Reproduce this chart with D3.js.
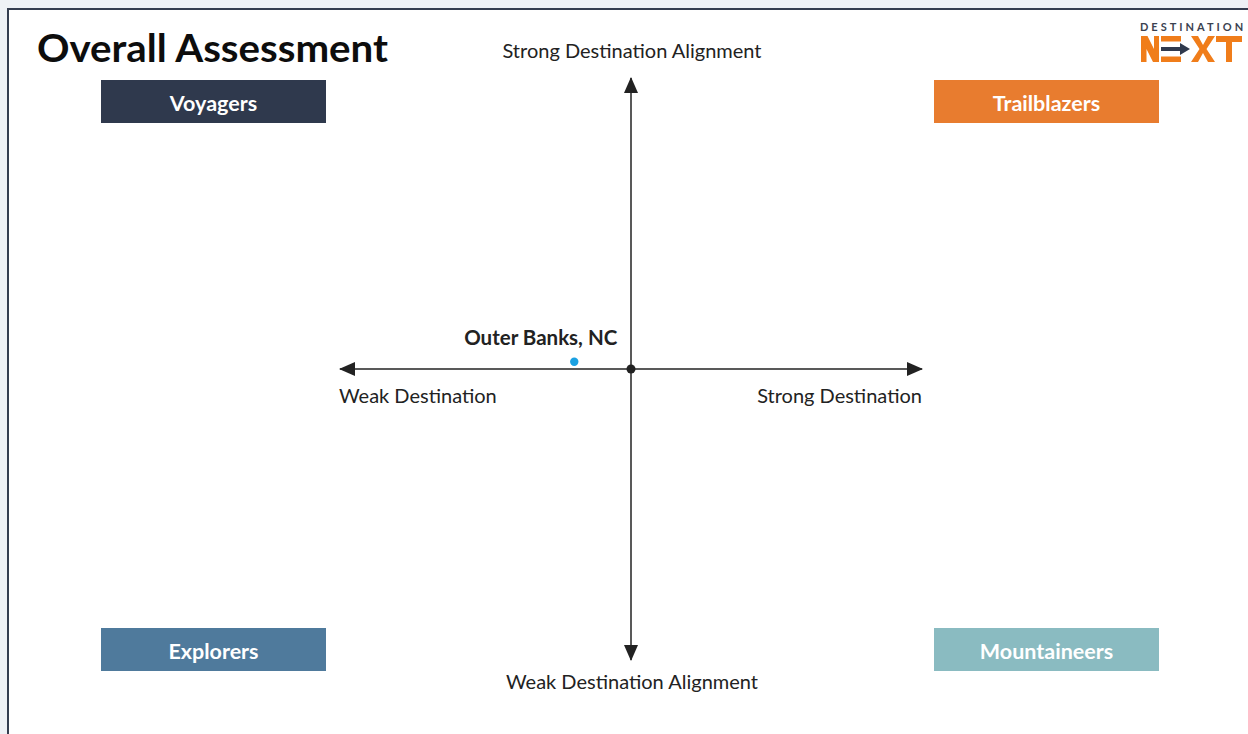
<!DOCTYPE html>
<html>
<head>
<meta charset="utf-8">
<script src="https://cdn.jsdelivr.net/npm/d3@7.9.0/dist/d3.min.js"></script>
<style>
  html, body { margin: 0; padding: 0; background: #eef1f6; }
  svg { display: block; font-family: "Lato", "Noto Sans", sans-serif; }
</style>
</head>
<body>
<svg id="chart"></svg>
<script>
// Quadrant names and colours
const quadrants = ["Voyagers", "Trailblazers", "Explorers", "Mountaineers"];
const quadrantColors = ["#2f394d", "#e87c2f", "#4f7a9c", "#8abbc1"];
const quadrantCorner = [["left", "top"], ["right", "top"], ["left", "bottom"], ["right", "bottom"]];

// Axis end labels
const axisLabels = {
  top: "Strong Destination Alignment",
  bottom: "Weak Destination Alignment",
  left: "Weak Destination",
  right: "Strong Destination"
};

// Destinations plotted (score -100..100 on each axis)
const destNames = ["Outer Banks, NC"];
const destStrength = [-19.5];
const destAlignment = [2.5];

const W = 1248, H = 734;
const svg = d3.select("#chart").attr("width", W).attr("height", H);

// page frame
svg.append("rect")
  .attr("x", 8).attr("y", 9)
  .attr("width", W + 10).attr("height", H + 10)
  .attr("fill", "#fff")
  .attr("stroke", "#343d50")
  .attr("stroke-width", 2);

// title
svg.append("text")
  .attr("x", 37).attr("y", 62)
  .style("font-size", "39px")
  .style("font-weight", "bold")
  .attr("fill", "#0d0d0d")
  .attr("textLength", 351)
  .attr("lengthAdjust", "spacingAndGlyphs")
  .text("Overall Assessment");

// scales
const x = d3.scaleLinear().domain([-100, 100]).range([340, 922]);
const y = d3.scaleLinear().domain([-100, 100]).range([660, 78]);

// arrow marker
const defs = svg.append("defs");
defs.append("marker")
  .attr("id", "arrow")
  .attr("viewBox", "0 0 16 14")
  .attr("refX", 15).attr("refY", 7)
  .attr("markerWidth", 16).attr("markerHeight", 14)
  .attr("markerUnits", "userSpaceOnUse")
  .attr("orient", "auto-start-reverse")
  .append("path")
  .attr("d", "M0,0 L16,7 L0,14 Z")
  .attr("fill", "#222");

const g = svg.append("g");

g.append("line")
  .attr("x1", x(-100)).attr("x2", x(100))
  .attr("y1", y(0)).attr("y2", y(0))
  .attr("stroke", "#222").attr("stroke-width", 1.5)
  .attr("marker-start", "url(#arrow)")
  .attr("marker-end", "url(#arrow)");

g.append("line")
  .attr("x1", x(0)).attr("x2", x(0))
  .attr("y1", y(100)).attr("y2", y(-100))
  .attr("stroke", "#222").attr("stroke-width", 1.5)
  .attr("marker-start", "url(#arrow)")
  .attr("marker-end", "url(#arrow)");

g.append("circle")
  .attr("cx", x(0)).attr("cy", y(0)).attr("r", 4.5)
  .attr("fill", "#222");

// axis labels
const labelStyle = sel => sel.style("font-size", "20px").attr("fill", "#222");
g.append("text").attr("x", x(0) + 1).attr("y", 58).attr("text-anchor", "middle")
  .call(labelStyle).text(axisLabels.top);
g.append("text").attr("x", x(0) + 1).attr("y", 689).attr("text-anchor", "middle")
  .call(labelStyle).text(axisLabels.bottom);
g.append("text").attr("x", x(-100) - 1).attr("y", 403).attr("text-anchor", "start")
  .call(labelStyle).text(axisLabels.left);
g.append("text").attr("x", x(100)).attr("y", 403).attr("text-anchor", "end")
  .call(labelStyle).text(axisLabels.right);

// quadrant boxes
const boxW = 225, boxH = 43;
const boxX = { left: 101, right: 934 };
const boxY = { top: 80, bottom: 628 };
const boxes = svg.selectAll("g.quad")
  .data(quadrants.map((q, i) => ({ name: q, color: quadrantColors[i], corner: quadrantCorner[i] })))
  .join("g")
  .attr("class", "quad")
  .attr("transform", d => `translate(${boxX[d.corner[0]]},${boxY[d.corner[1]]})`);
boxes.append("rect")
  .attr("width", boxW).attr("height", boxH)
  .attr("fill", d => d.color);
boxes.append("text")
  .attr("x", boxW / 2).attr("y", boxH / 2 + 9.5)
  .attr("text-anchor", "middle")
  .style("font-size", "21.5px")
  .style("font-weight", "bold")
  .attr("fill", "#fff")
  .text(d => d.name);

// destination points
const dests = destNames.map((n, i) => ({ name: n, sx: destStrength[i], sy: destAlignment[i] }));
g.selectAll("circle.dest")
  .data(dests)
  .join("circle")
  .attr("class", "dest")
  .attr("cx", d => x(d.sx)).attr("cy", d => y(d.sy))
  .attr("r", 4.2)
  .attr("fill", "#1ba1e2");
g.selectAll("text.dest")
  .data(dests)
  .join("text")
  .attr("class", "dest")
  .attr("x", d => x(d.sx) + 43).attr("y", d => y(d.sy) - 17)
  .attr("text-anchor", "end")
  .style("font-size", "20.5px")
  .style("font-weight", "bold")
  .attr("fill", "#222")
  .text(d => d.name);

// logo
const orange = "#f07d1a";
const logo = svg.append("g").attr("transform", "translate(1140,0)");
logo.append("text")
  .attr("x", 0).attr("y", 31)
  .style("font-size", "11px")
  .style("font-weight", "bold")
  .style("letter-spacing", "3px")
  .attr("fill", "#3b4250")
  .text("DESTINATION");
// N
logo.append("path")
  .attr("d", "M1,62 V36 H7.5 L14,49 V36 H19 V62 H13 L6.5,49 V62 Z")
  .attr("fill", orange);
// E with arrow
logo.append("rect").attr("x", 21).attr("y", 36).attr("width", 20).attr("height", 5.5).attr("fill", orange);
logo.append("rect").attr("x", 21).attr("y", 56.5).attr("width", 20).attr("height", 5.5).attr("fill", orange);
logo.append("path")
  .attr("d", "M21,47 H40 V43 L50,49 L40,55 V51 H21 Z")
  .attr("fill", "#2f394d");
// X
logo.append("path")
  .attr("d", "M51,36 H58 L63,45 L68,36 H75 L66.5,49 L75,62 H68 L63,53 L58,62 H51 L59.5,49 Z")
  .attr("fill", orange);
// T
logo.append("path")
  .attr("d", "M76,36 H102 V42 H92 V62 H86 V42 H76 Z")
  .attr("fill", orange);
</script>
</body>
</html>
